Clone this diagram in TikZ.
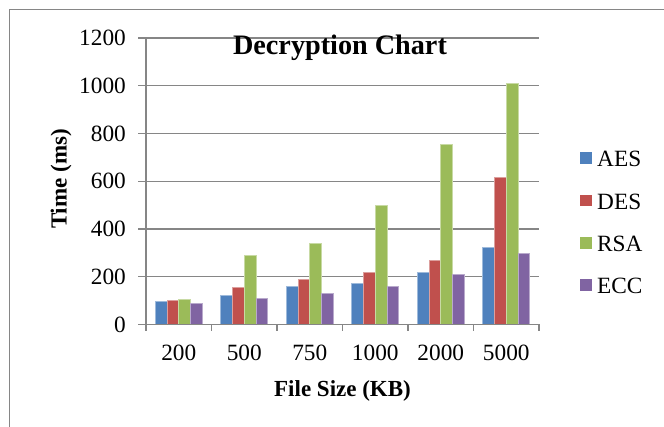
\documentclass[tikz,border=0pt]{standalone}
\usepackage{fontspec}
\setmainfont{Liberation Serif}
\definecolor{aes}{HTML}{4F81BD}
\definecolor{des}{HTML}{C0504D}
\definecolor{rsa}{HTML}{9BBB59}
\definecolor{ecc}{HTML}{8064A2}
\definecolor{axisgray}{HTML}{868686}
\begin{document}
\begin{tikzpicture}[x=1pt,y=-1pt,
  ticklbl/.style={font=\fontsize{23.3}{23.3}\selectfont, inner sep=0pt},
  axtitle/.style={font=\fontsize{23}{23}\selectfont\bfseries, inner sep=0pt},
  charttitle/.style={font=\fontsize{28.2}{28.2}\selectfont\bfseries, inner sep=0pt},
  gridln/.style={draw=axisgray, line width=1.4pt},
  axisln/.style={draw=axisgray, line width=1.5pt},
  bar/.style={line width=0.5pt},
  keybox/.style={minimum size=11.5pt, inner sep=0pt, draw=none}
]
\useasboundingbox (0,0) rectangle (664,427);
\fill[white] (0,0) rectangle (664,427);

% chart frame (top and left edges)
\draw[axisgray, line width=0.9pt] (9,427) -- (9,9) -- (664,9);

% horizontal gridlines with their tick marks and value labels
\foreach \v in {200,400,...,1200}{
  \draw[gridln] (138,{324.5-\v*0.23875}) -- (539,{324.5-\v*0.23875});
}
\foreach \v in {0,200,...,1200}{
  \node[ticklbl, anchor=base east] (ylab\v) at (126,{324.5-\v*0.23875+7.7}) {\v};
}

% bars: AES / DES / RSA / ECC per file size
\foreach \a/\b/\c/\d [count=\i from 0] in
  {98/102/104/91, 122/156/288/110, 160/189/340/132,
   174/219/500/161, 219/270/755/212, 325/615/1012/298}{
  \pgfmathsetmacro{\xo}{146+65.5*\i+9}
  \fill[aes] (\xo,324.5) rectangle ({\xo+11.75},{324.5-\a*0.23875});
  \draw[aes!55!white, bar] (\xo,324.5) rectangle ({\xo+11.75},{324.5-\a*0.23875});
  \fill[des] ({\xo+11.75},324.5) rectangle ({\xo+23.5},{324.5-\b*0.23875});
  \draw[des!55!white, bar] ({\xo+11.75},324.5) rectangle ({\xo+23.5},{324.5-\b*0.23875});
  \fill[rsa] ({\xo+23.5},324.5) rectangle ({\xo+35.25},{324.5-\c*0.23875});
  \draw[rsa!55!white, bar] ({\xo+23.5},324.5) rectangle ({\xo+35.25},{324.5-\c*0.23875});
  \fill[ecc] ({\xo+35.25},324.5) rectangle ({\xo+47},{324.5-\d*0.23875});
  \draw[ecc!55!white, bar] ({\xo+35.25},324.5) rectangle ({\xo+47},{324.5-\d*0.23875});
}

% axes
\draw[axisln] (146,38) -- (146,324.5);
\draw[axisln] (138,324.5) -- (539,324.5);
\foreach \i in {0,...,6}{
  \draw[axisln] ({146+65.5*\i},324.5) -- ({146+65.5*\i},331.5);
}

% category labels
\foreach \s [count=\i from 0] in {200,500,750,1000,2000,5000}{
  \node[ticklbl, anchor=base] (xlab\i) at ({146+65.5*\i+32.75},360.7) {\s};
}

% titles
\node[charttitle, anchor=base] (title) at (340,55) {Decryption Chart};
\node[axtitle, anchor=base] (xtitle) at (342.5,396.7) {File Size (KB)};
\node[axtitle, anchor=base, rotate=90] (ytitle) at (66.5,179) {Time (ms)};

% legend
\foreach \s/\c [count=\i from 0] in {AES/aes, DES/des, RSA/rsa, ECC/ecc}{
  \node[keybox, fill=\c] (key\s) at (585.75,{158+42.4*\i}) {};
  \node[ticklbl, anchor=base west] (leg\s) at (597,{158+42.4*\i+8.7}) {\s};
}
\end{tikzpicture}
\end{document}
